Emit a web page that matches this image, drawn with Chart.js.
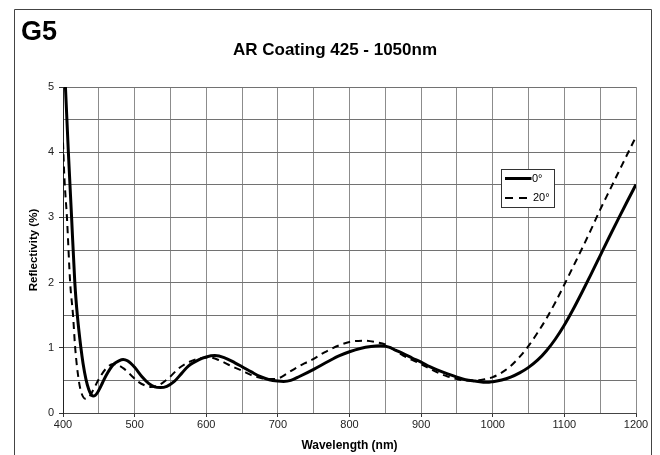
<!DOCTYPE html>
<html><head><meta charset="utf-8">
<script src="https://cdn.jsdelivr.net/npm/chart.js@4/dist/chart.umd.min.js"></script>
<style>html,body{margin:0;padding:0;background:#fff;}#wrap{width:660px;height:455px;}</style>
</head><body><div id="wrap"><canvas id="c" width="660" height="455"></canvas></div>
<script>
// ---- data ----
const wl0 = [400,403,407.5,412,416.5,420,425,428,432,436,439,442,445,448,451,455,460,466,472,478,484,490,500,510,520,528,536,545,555,565,575,590,600,612,625,640,650,663,675,688,700,708,718,730,750,770,786,800,815,830,843,855,865,875,888,900,912,925,937,950,962,975,992,1000,1012.5,1025,1037.5,1050,1062.5,1075,1087.5,1100,1112.5,1125,1137.5,1150,1162.5,1175,1187.5,1200];
const r0  = [5.9,5.1,4.0,3.0,2.0,1.5,1.0,0.76,0.52,0.36,0.29,0.26,0.27,0.31,0.37,0.46,0.57,0.68,0.76,0.80,0.82,0.80,0.70,0.56,0.45,0.40,0.39,0.41,0.48,0.60,0.72,0.82,0.86,0.88,0.85,0.77,0.71,0.63,0.56,0.51,0.49,0.485,0.50,0.56,0.67,0.79,0.88,0.94,0.99,1.02,1.03,1.01,0.96,0.91,0.84,0.78,0.71,0.65,0.60,0.55,0.51,0.49,0.47,0.48,0.505,0.55,0.615,0.70,0.81,0.955,1.135,1.35,1.595,1.86,2.135,2.415,2.695,2.97,3.24,3.505];
const wl20 = [400,402,405.5,410,414,417,422,426,431,436,442,450,460,470,476,485,495,505,515,522,530,540,550,560,572,585,600,605,620,635,650,663,675,688,700,712,725,737,750,765,786,800,820,835,850,862,875,888,900,912,925,937,950,962,978,990,1000,1012.5,1025,1037.5,1050,1062.5,1075,1087.5,1100,1112.5,1125,1137.5,1150,1162.5,1175,1187.5,1200];
const r20  = [4.15,3.6,3.0,2.0,1.5,1.0,0.5,0.3,0.22,0.24,0.35,0.52,0.68,0.75,0.74,0.68,0.58,0.48,0.42,0.40,0.41,0.47,0.56,0.67,0.76,0.82,0.85,0.85,0.80,0.72,0.65,0.58,0.54,0.52,0.53,0.60,0.69,0.76,0.83,0.93,1.04,1.09,1.11,1.09,1.05,0.97,0.88,0.81,0.75,0.68,0.61,0.56,0.52,0.50,0.50,0.52,0.55,0.62,0.72,0.86,1.03,1.23,1.45,1.70,1.97,2.25,2.53,2.82,3.12,3.40,3.68,3.96,4.24];
const seriesLabels = ['0°','20°'];
const xMin = 400, xMax = 1200, xStep = 50, xLabelEvery = 100;
const yMin = 0, yMax = 5, yStep = 0.5, yLabelEvery = 1;
const chartCode = 'G5';
const chartTitle = 'AR Coating 425 - 1050nm';
const xTitle = 'Wavelength (nm)';
const yTitle = 'Reflectivity (%)';

const toPts = (xs, ys) => xs.map((x, i) => ({x: x, y: ys[i]}));
const FONT = '"Liberation Sans", Arial, Helvetica, sans-serif';

const decor = {
  id: 'decor',
  beforeDraw(chart) {
    const ctx = chart.ctx;
    ctx.save();
    ctx.fillStyle = '#fff';
    ctx.fillRect(0, 0, chart.width, chart.height);
    ctx.strokeStyle = '#444';
    ctx.lineWidth = 1;
    ctx.beginPath();
    ctx.moveTo(14.5, 460); ctx.lineTo(14.5, 9.5); ctx.lineTo(651.5, 9.5); ctx.lineTo(651.5, 460);
    ctx.stroke();
    ctx.fillStyle = '#000';
    ctx.textBaseline = 'alphabetic';
    ctx.textAlign = 'left';
    ctx.font = 'bold 27px ' + FONT;
    ctx.fillText(chartCode, 21, 40);
    ctx.textAlign = 'center';
    ctx.font = 'bold 17px ' + FONT;
    ctx.fillText(chartTitle, 335, 55);
    ctx.restore();
  },
  afterDraw(chart) {
    const ctx = chart.ctx;
    ctx.save();
    const bx = 501.5, by = 169.5, bw = 53, bh = 38;
    ctx.fillStyle = '#fff';
    ctx.fillRect(bx, by, bw, bh);
    ctx.strokeStyle = '#333';
    ctx.lineWidth = 1;
    ctx.setLineDash([]);
    ctx.strokeRect(bx, by, bw, bh);
    chart.data.datasets.forEach((ds, i) => {
      const y = 178.5 + i * 19.5;
      const dashed = (ds.borderDash || []).length > 0;
      ctx.strokeStyle = ds.borderColor;
      ctx.lineWidth = ds.borderWidth;
      ctx.setLineDash(dashed ? [8, 6] : []);
      ctx.beginPath();
      ctx.moveTo(505, y); ctx.lineTo(dashed ? 527 : 531.5, y);
      ctx.stroke();
      ctx.setLineDash([]);
      ctx.fillStyle = '#000';
      ctx.font = '11px ' + FONT;
      ctx.textAlign = 'left';
      ctx.textBaseline = 'middle';
      ctx.fillText(ds.label, dashed ? 533 : 532, y);
    });
    ctx.restore();
  }
};

new Chart(document.getElementById('c'), {
  type: 'line',
  data: {
    datasets: [
      {label: seriesLabels[0], data: toPts(wl0, r0), borderColor: '#000', borderWidth: 3, pointRadius: 0, cubicInterpolationMode: 'monotone', fill: false, clip: 0},
      {label: seriesLabels[1], data: toPts(wl20, r20), borderColor: '#000', borderWidth: 2, borderDash: [7, 5], pointRadius: 0, cubicInterpolationMode: 'monotone', fill: false, clip: 0}
    ]
  },
  options: {
    responsive: false,
    animation: false,
    devicePixelRatio: 1,
    layout: {padding: {left: 15, right: 24, top: 87, bottom: 0}},
    plugins: {legend: {display: false}, tooltip: {enabled: false}, title: {display: false}},
    scales: {
      x: {
        type: 'linear', min: xMin, max: xMax,
        afterFit: s => { s.height = 42; },
        grid: {color: '#8c8c8c', lineWidth: 1, tickLength: 4,
               tickColor: c => (c.tick && c.tick.value % xLabelEvery === 0) ? '#333' : 'rgba(0,0,0,0)'},
        border: {color: '#444', width: 1},
        ticks: {stepSize: xStep, autoSkip: false, maxRotation: 0, padding: 1, color: '#222',
                font: {family: FONT, size: 11},
                callback: v => (v % xLabelEvery === 0 ? String(v) : '')},
        title: {display: true, text: xTitle, color: '#000', font: {family: FONT, size: 12, weight: 'bold'}, padding: {top: 0, bottom: 2}}
      },
      y: {
        type: 'linear', min: yMin, max: yMax,
        afterFit: s => { s.width = 48; },
        grid: {color: '#727272', lineWidth: 1, tickLength: 4,
               tickColor: c => (c.tick && Math.abs(c.tick.value % yLabelEvery) < 1e-9) ? '#333' : 'rgba(0,0,0,0)'},
        border: {color: '#222', width: 1},
        ticks: {stepSize: yStep, autoSkip: false, padding: 5, color: '#222',
                font: {family: FONT, size: 11},
                callback: v => (Math.abs(v % yLabelEvery) < 1e-9 ? String(v) : '')},
        title: {display: true, text: yTitle, color: '#000', font: {family: FONT, size: 11.5, weight: 'bold'}, padding: {top: 12, bottom: 0}}
      }
    }
  },
  plugins: [decor]
});
</script>
</body></html>
